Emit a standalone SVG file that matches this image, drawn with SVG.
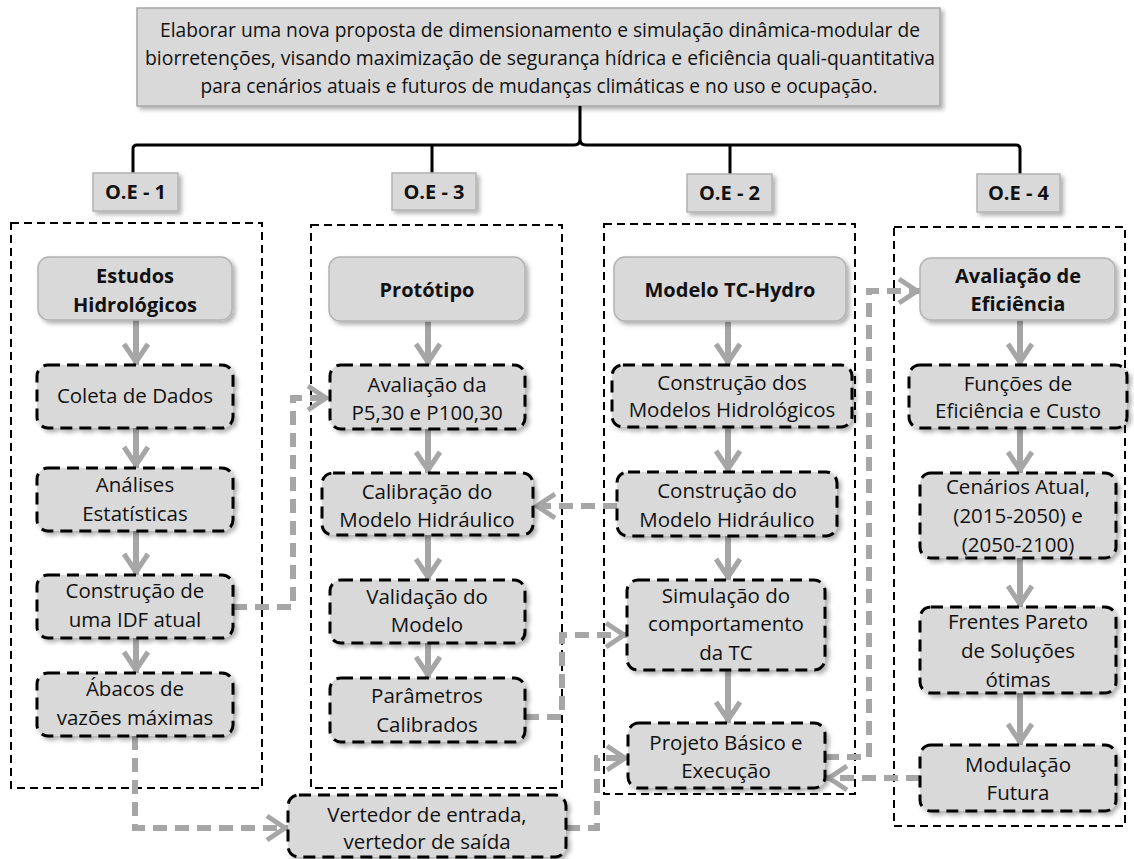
<svg xmlns="http://www.w3.org/2000/svg" width="1134" height="859" viewBox="0 0 1134 859">
  <defs>
    <filter id="shadow" x="-10%" y="-10%" width="130%" height="140%">
      <feDropShadow dx="3" dy="3" stdDeviation="2" flood-color="#000" flood-opacity="0.3"/>
    </filter>
    <marker id="chev" markerUnits="userSpaceOnUse" viewBox="-26 -16 30 32" refX="0" refY="0" markerWidth="30" markerHeight="32" orient="auto">
      <path d="M-21,-12 L-3,0 L-21,12" fill="none" stroke="#a6a6a6" stroke-width="5" stroke-dasharray="none"/>
    </marker>
    <style>
      .goal { fill: #d9d9d9; stroke: #a6a6a6; stroke-width: 1.5; }
      .tag { fill: #d9d9d9; stroke: #b3b3b3; stroke-width: 1.5; }
      .head { fill: #d9d9d9; stroke: #b3b3b3; stroke-width: 1.5; }
      .step { fill: #d9d9d9; stroke: #000; stroke-width: 3; stroke-dasharray: 12 7; }
      .frame { fill: none; stroke: #000; stroke-width: 2; stroke-dasharray: 8 5; }
      .brace { fill: none; stroke: #000; stroke-width: 3; }
      .flow { fill: none; stroke: #a6a6a6; stroke-width: 6; marker-end: url(#chev); }
      .link { fill: none; stroke: #a6a6a6; stroke-width: 6; stroke-dasharray: 14 8; marker-end: url(#chev); }
      text { font-family: "Open Sans", "Liberation Sans", sans-serif; font-size: 20.5px; fill: #111; text-anchor: middle; }
      .b { font-weight: bold; font-size: 20px; }
    </style>
  </defs>

  <!-- general objective -->
  <g id="objetivo-geral">
    <rect class="goal" x="137" y="8" width="803" height="98" filter="url(#shadow)"/>
    <text x="540" y="37" textLength="760" lengthAdjust="spacingAndGlyphs">Elaborar uma nova proposta de dimensionamento e simulação dinâmica-modular de</text>
    <text x="540" y="65" textLength="790" lengthAdjust="spacingAndGlyphs">biorretenções, visando maximização de segurança hídrica e eficiência quali-quantitativa</text>
    <text x="539" y="93" textLength="677" lengthAdjust="spacingAndGlyphs">para cenários atuais e futuros de mudanças climáticas e no uso e ocupação.</text>
  </g>

  <!-- brace splitting into the four specific objectives -->
  <g id="chave">
    <path class="brace" d="M580,106 V139"/>
    <path class="brace" d="M133,173 V149 Q133,145 137,145 H574 Q580,145 580,139 Q580,145 586,145 H1016 Q1020,145 1020,149 V174"/>
    <path class="brace" d="M432,145 V173"/>
    <path class="brace" d="M730,145 V174"/>
  </g>

  <!-- column frames -->
  <g id="quadros">
    <rect class="frame" x="11" y="223" width="251" height="565"/>
    <rect class="frame" x="311" y="225" width="251" height="563"/>
    <rect class="frame" x="604" y="224" width="251" height="570"/>
    <rect class="frame" x="894" y="227" width="231" height="599"/>
  </g>

  <!-- connectors -->
  <g id="conectores">
    <path class="flow" d="M136,320 V365"/>
    <path class="flow" d="M136,428 V468"/>
    <path class="flow" d="M136,531 V575"/>
    <path class="flow" d="M136,638 V673"/>

    <path class="flow" d="M428,321 V365"/>
    <path class="flow" d="M428,429 V473"/>
    <path class="flow" d="M428,535 V580"/>
    <path class="flow" d="M428,643 V678"/>

    <path class="flow" d="M728,321 V365"/>
    <path class="flow" d="M728,427 V472"/>
    <path class="flow" d="M728,536 V580"/>
    <path class="flow" d="M728,670 V723"/>

    <path class="flow" d="M1020,320 V365"/>
    <path class="flow" d="M1020,428 V473"/>
    <path class="flow" d="M1020,558 V607"/>
    <path class="flow" d="M1020,693 V745"/>

    <path class="link" d="M233,607 H293 V398 H329"/>
    <path class="link" d="M617,506 H534"/>
    <path class="link" d="M525,717 H562 V635 H627"/>
    <path class="link" d="M135,736 V828 H288"/>
    <path class="link" d="M566,828 H597 V758 H628"/>
    <path class="link" d="M825,757 H869 V291 H920"/>
    <path class="link" d="M920,778 H826"/>
  </g>

  <!-- O.E tags -->
  <g id="oe-1">
    <rect class="tag" x="93" y="173" width="85" height="38" filter="url(#shadow)"/>
    <text class="b" x="135.5" y="199">O.E - 1</text>
  </g>
  <g id="oe-3">
    <rect class="tag" x="392" y="173" width="84" height="37" filter="url(#shadow)"/>
    <text class="b" x="434" y="199">O.E - 3</text>
  </g>
  <g id="oe-2">
    <rect class="tag" x="687" y="174" width="85" height="38" filter="url(#shadow)"/>
    <text class="b" x="729.5" y="200">O.E - 2</text>
  </g>
  <g id="oe-4">
    <rect class="tag" x="977" y="174" width="83" height="38" filter="url(#shadow)"/>
    <text class="b" x="1018.5" y="200">O.E - 4</text>
  </g>

  <!-- O.E 1 column -->
  <g id="estudos-hidrologicos">
    <rect class="head" x="38" y="257" width="194" height="63" rx="11" filter="url(#shadow)"/>
    <text class="b" x="135" y="283">Estudos</text>
    <text class="b" x="135" y="312">Hidrológicos</text>
  </g>
  <g id="coleta-de-dados">
    <rect class="step" x="37" y="365" width="196" height="63" rx="11" filter="url(#shadow)"/>
    <text x="135" y="403">Coleta de Dados</text>
  </g>
  <g id="analises-estatisticas">
    <rect class="step" x="37" y="468" width="196" height="63" rx="11" filter="url(#shadow)"/>
    <text x="135" y="492">Análises</text>
    <text x="135" y="521">Estatísticas</text>
  </g>
  <g id="idf-atual">
    <rect class="step" x="37" y="575" width="196" height="63" rx="11" filter="url(#shadow)"/>
    <text x="135" y="598">Construção de</text>
    <text x="135" y="627">uma IDF atual</text>
  </g>
  <g id="abacos">
    <rect class="step" x="37" y="673" width="196" height="63" rx="11" filter="url(#shadow)"/>
    <text x="135" y="696">Ábacos de</text>
    <text x="135" y="725">vazões máximas</text>
  </g>

  <!-- O.E 3 column -->
  <g id="prototipo">
    <rect class="head" x="329" y="257" width="196" height="64" rx="11" filter="url(#shadow)"/>
    <text class="b" x="427" y="297">Protótipo</text>
  </g>
  <g id="avaliacao-p">
    <rect class="step" x="330" y="365" width="195" height="64" rx="11" filter="url(#shadow)"/>
    <text x="427" y="392">Avaliação da</text>
    <text x="427" y="420">P5,30 e P100,30</text>
  </g>
  <g id="calibracao">
    <rect class="step" x="322" y="473" width="211" height="62" rx="11" filter="url(#shadow)"/>
    <text x="427" y="499">Calibração do</text>
    <text x="427" y="527">Modelo Hidráulico</text>
  </g>
  <g id="validacao">
    <rect class="step" x="330" y="580" width="195" height="63" rx="11" filter="url(#shadow)"/>
    <text x="427" y="604">Validação do</text>
    <text x="427" y="632">Modelo</text>
  </g>
  <g id="parametros">
    <rect class="step" x="330" y="678" width="195" height="64" rx="11" filter="url(#shadow)"/>
    <text x="427" y="703">Parâmetros</text>
    <text x="427" y="732">Calibrados</text>
  </g>
  <g id="vertedores">
    <rect class="step" x="288" y="795" width="278" height="62" rx="11" filter="url(#shadow)"/>
    <text x="427" y="822">Vertedor de entrada,</text>
    <text x="427" y="849">vertedor de saída</text>
  </g>

  <!-- O.E 2 column -->
  <g id="modelo-tc-hydro">
    <rect class="head" x="614" y="257" width="232" height="64" rx="11" filter="url(#shadow)"/>
    <text class="b" x="730" y="297">Modelo TC-Hydro</text>
  </g>
  <g id="modelos-hidrologicos">
    <rect class="step" x="612" y="365" width="240" height="62" rx="11" filter="url(#shadow)"/>
    <text x="732" y="390">Construção dos</text>
    <text x="732" y="417">Modelos Hidrológicos</text>
  </g>
  <g id="modelo-hidraulico">
    <rect class="step" x="617" y="472" width="220" height="64" rx="11" filter="url(#shadow)"/>
    <text x="727" y="498">Construção do</text>
    <text x="727" y="527">Modelo Hidráulico</text>
  </g>
  <g id="simulacao">
    <rect class="step" x="627" y="580" width="198" height="90" rx="11" filter="url(#shadow)"/>
    <text x="726" y="603">Simulação do</text>
    <text x="726" y="631">comportamento</text>
    <text x="726" y="660">da TC</text>
  </g>
  <g id="projeto-basico">
    <rect class="step" x="628" y="723" width="197" height="65" rx="11" filter="url(#shadow)"/>
    <text x="726" y="750">Projeto Básico e</text>
    <text x="726" y="778">Execução</text>
  </g>

  <!-- O.E 4 column -->
  <g id="avaliacao-eficiencia">
    <rect class="head" x="920" y="258" width="195" height="62" rx="11" filter="url(#shadow)"/>
    <text class="b" x="1018" y="283">Avaliação de</text>
    <text class="b" x="1018" y="311">Eficiência</text>
  </g>
  <g id="funcoes">
    <rect class="step" x="909" y="365" width="218" height="63" rx="11" filter="url(#shadow)"/>
    <text x="1018" y="391">Funções de</text>
    <text x="1018" y="418">Eficiência e Custo</text>
  </g>
  <g id="cenarios">
    <rect class="step" x="920" y="473" width="196" height="85" rx="11" filter="url(#shadow)"/>
    <text x="1018" y="494">Cenários Atual,</text>
    <text x="1018" y="523">(2015-2050) e</text>
    <text x="1018" y="552">(2050-2100)</text>
  </g>
  <g id="frentes-pareto">
    <rect class="step" x="920" y="607" width="196" height="86" rx="11" filter="url(#shadow)"/>
    <text x="1018" y="629">Frentes Pareto</text>
    <text x="1018" y="658">de Soluções</text>
    <text x="1018" y="687">ótimas</text>
  </g>
  <g id="modulacao">
    <rect class="step" x="920" y="745" width="196" height="66" rx="11" filter="url(#shadow)"/>
    <text x="1018" y="772">Modulação</text>
    <text x="1018" y="800">Futura</text>
  </g>
</svg>
